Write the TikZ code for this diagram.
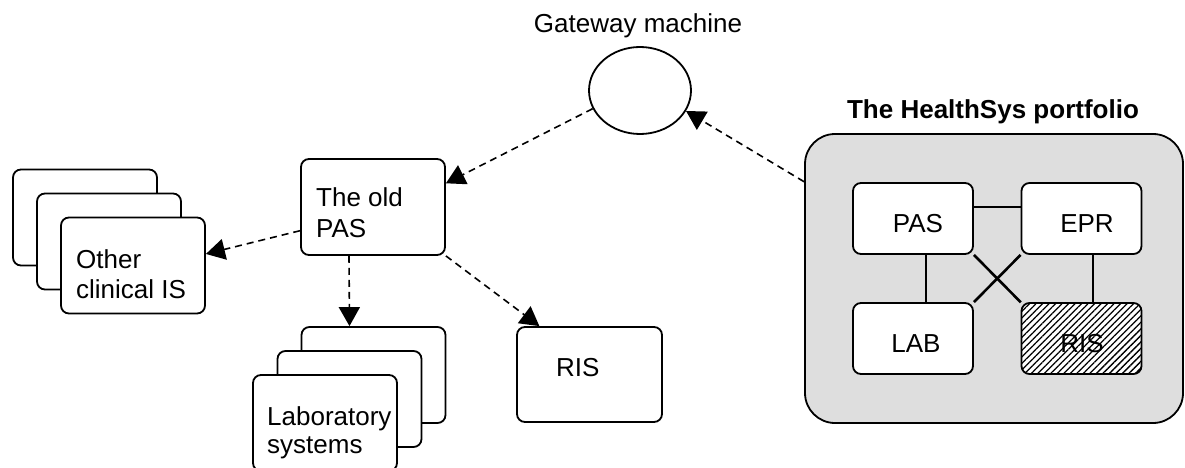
\documentclass[tikz,border=0pt]{standalone}
\usepackage{fontspec}
\setmainfont{Liberation Sans}
\usetikzlibrary{arrows.meta,calc,patterns.meta,shapes.geometric}
\begin{document}
\begin{tikzpicture}[x=1pt,y=-1pt,
  txt/.style={inner sep=0pt,font=\fontsize{26}{30}\selectfont,anchor=base west},
  ctxt/.style={inner sep=0pt,font=\fontsize{26}{30}\selectfont,anchor=base},
  box/.style={draw,line width=1.8pt,rounded corners=8pt,fill=white,inner sep=0pt},
  bigbox/.style={box,minimum width=144pt,minimum height=96pt},
  smallbox/.style={box,minimum width=120pt,minimum height=71pt},
  hatchbox/.style={draw,line width=1.8pt,rounded corners=8pt,inner sep=0pt,
    minimum width=120pt,minimum height=71pt,
    preaction={fill=white},pattern={Lines[angle=45,distance=4.6pt,line width=1.3pt]}},
  dasharrow/.style={line width=1.6pt,dash pattern=on 7pt off 5pt,
    -{Triangle[length=19pt,width=21pt]}},
  link/.style={line width=2.6pt}
]
\useasboundingbox (0,0) rectangle (1185,468);

% Gateway
\node[draw,ellipse,line width=1.8pt,minimum width=102pt,minimum height=87pt,inner sep=0pt] (gw) at (640,90.5) {};
\node[ctxt] (gwt) at (638,33) {Gateway machine};

% Other clinical IS stack
\node[bigbox] (oc1) at (85,217.5) {};
\node[bigbox] (oc2) at (109,241.5) {};
\node[bigbox] (oc3) at (133,265.5) {};
\node[txt] (oct1) at (76,268) {Other};
\node[txt] (oct2) at (76,298) {clinical IS};

% Old PAS
\node[bigbox] (oldpas) at (373,207) {};
\node[txt] (opt1) at (316,206) {The old};
\node[txt] (opt2) at (316,237) {PAS};

% Laboratory stack
\node[bigbox] (lab1) at (373.5,375) {};
\node[bigbox] (lab2) at (349.5,399) {};
\node[bigbox] (lab3) at (325,423) {};
\node[txt] (lbt1) at (267,425) {Laboratory};
\node[txt] (lbt2) at (267,453) {systems};

% RIS
\node[box,minimum width=145pt,minimum height=95pt] (ris) at (589.5,374.5) {};
\node[txt] (rist) at (556,376) {RIS};

% HealthSys portfolio
\node[draw,line width=1.8pt,rounded corners=30pt,fill=black!13,minimum width=378pt,minimum height=289pt,inner sep=0pt] (hs) at (994,278.5) {};
\node[ctxt,font=\fontsize{26}{30}\selectfont\bfseries] (hst) at (993,119) {The HealthSys portfolio};

\node[smallbox] (pas) at (913,218.5) {};
\node[smallbox] (epr) at (1081.5,218.5) {};
\node[smallbox] (lab) at (913,338.5) {};
\node[hatchbox] (ris2) at (1081.5,338.5) {};
\node[ctxt] at ($(pas)+(5,13.5)$) {PAS};
\node[ctxt] at ($(epr)+(5.5,13.5)$) {EPR};
\node[ctxt] at ($(lab)+(3,13.5)$) {LAB};
\node[ctxt] at ($(ris2)+(0.5,13.5)$) {RIS};

% internal links
\draw[link] ($(pas.east)+(0,-11.5)$) -- ($(epr.west)+(0,-11.5)$);
\draw[link] ($(pas.south)+(13,0)$) -- ($(lab.north)+(13,0)$);
\draw[link] ($(epr.south)+(11.5,0)$) -- ($(ris2.north)+(11.5,0)$);
\draw[link] (pas.south east) -- (ris2.north west);
\draw[link] (epr.south west) -- (lab.north east);

% dashed connectors
\draw[dasharrow] (hs.153) -- (gw.336);
\draw[dasharrow] (gw.201) -- (oldpas.18);
\draw[dasharrow] (oldpas.198) -- (oc3.9.5);
\draw[dasharrow] ($(oldpas.south)+(-24,0)$) -- ($(lab1.north)+(-24,0)$);
\draw[dasharrow] (oldpas.south east) -- (ris.136);
\end{tikzpicture}
\end{document}
